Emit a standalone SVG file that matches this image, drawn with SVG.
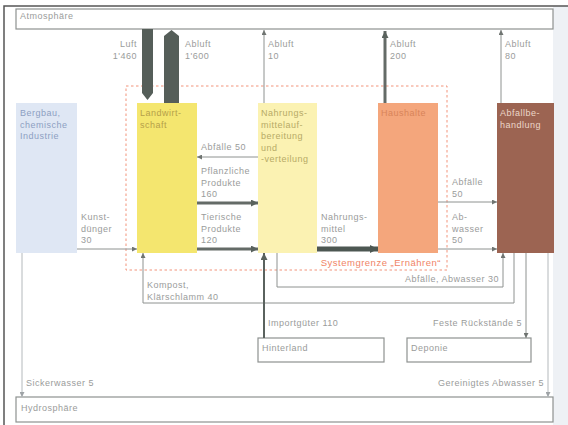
<svg xmlns="http://www.w3.org/2000/svg" width="568" height="425" viewBox="0 0 568 425">
<style>
text{font-family:"Liberation Sans","DejaVu Sans",sans-serif;font-size:9px;letter-spacing:0.5px;fill:#9a9c9b}
.bl{fill:#8d9fc2}
.lw{fill:#b4a04a}
.nm{fill:#b7aa66}
.hh{fill:#d88459}
.ab{fill:#ecd7c9}
.sg{fill:#f08466;font-size:9.5px}
.thin{fill:none;stroke:#8e9290;stroke-width:1}
.light{fill:none;stroke:#b4b9bc;stroke-width:1}
.thick{fill:none;stroke:#646b67;stroke-width:3}
.box{fill:#fff;stroke:#8e9290;stroke-width:1.2}
</style>
<defs>
<marker id="a" viewBox="0 0 8 8" refX="8" refY="4" markerWidth="5" markerHeight="5" markerUnits="userSpaceOnUse" orient="auto"><path d="M0,0L8,4L0,8z" fill="#6f7471"/></marker>
<marker id="aL" viewBox="0 0 8 8" refX="8" refY="4" markerWidth="5" markerHeight="5" markerUnits="userSpaceOnUse" orient="auto"><path d="M0,0L8,4L0,8z" fill="#9ea3a6"/></marker>
<marker id="aT" viewBox="0 0 8 8" refX="8" refY="4" markerWidth="7" markerHeight="7" markerUnits="userSpaceOnUse" orient="auto"><path d="M0,0L8,4L0,8z" fill="#59625d"/></marker>
<marker id="aX" viewBox="0 0 8 8" refX="8" refY="4" markerWidth="8" markerHeight="9" markerUnits="userSpaceOnUse" orient="auto"><path d="M0,0L8,4L0,8z" fill="#4d5752"/></marker>
</defs>
<rect x="0" y="0" width="568" height="425" fill="#fff"/>
<rect x="553" y="6" width="15" height="419" fill="#eef1f5"/>
<path d="M4,425V6H568" fill="none" stroke="#555" stroke-width="1.5"/>

<g id="atmosphaere"><rect class="box" x="16" y="9" width="537" height="20"/><text x="20" y="19">Atmosphäre</text></g>
<g id="hydrosphaere"><rect class="box" x="16" y="397" width="537" height="25"/><text x="21" y="411">Hydrosphäre</text></g>

<g id="systemgrenze"><rect x="126" y="86" width="321" height="184" fill="none" stroke="#f2937a" stroke-width="1" stroke-dasharray="2.5,2.5"/><text class="sg" x="441" y="266" text-anchor="end">Systemgrenze „Ernähren“</text></g>

<g id="bergbau"><rect x="16" y="103" width="61" height="150" fill="#dfe7f4"/><text class="bl" x="20" y="116">Bergbau,</text><text class="bl" x="20" y="127.5">chemische</text><text class="bl" x="20" y="139">Industrie</text></g>
<g id="landwirtschaft"><rect x="137" y="103" width="60" height="150" fill="#f4e66f"/><text class="lw" x="140" y="116">Landwirt-</text><text class="lw" x="140" y="127.5">schaft</text></g>
<g id="nahrungsmittel"><rect x="258" y="103" width="59" height="150" fill="#fbf2b2"/><text class="nm" x="261" y="116">Nahrungs-</text><text class="nm" x="261" y="127.5">mittelauf-</text><text class="nm" x="261" y="139">bereitung</text><text class="nm" x="261" y="150.5">und</text><text class="nm" x="261" y="162">-verteilung</text></g>
<g id="haushalte"><rect x="378" y="103" width="60" height="150" fill="#f4a67c"/><text class="hh" x="381" y="116">Haushalte</text></g>
<g id="abfallbehandlung"><rect x="497" y="103" width="57" height="150" fill="#9c6452"/><text class="ab" x="500" y="116">Abfallbe-</text><text class="ab" x="500" y="127.5">handlung</text></g>
<g id="hinterland"><rect class="box" x="258" y="338" width="126" height="24"/><text x="262" y="351">Hinterland</text></g>
<g id="deponie"><rect class="box" x="407" y="338" width="124" height="24"/><text x="411" y="351">Deponie</text></g>

<g id="connectors">
<polygon points="142,29 153,29 153,93 147.5,100 142,93" fill="#555e59"/>
<polygon points="164,103 179,103 179,36 171.5,30 164,36" fill="#555e59"/>
<path class="thin" d="M264,103V30" marker-end="url(#a)"/>
<path class="thick" d="M385,103V31" marker-end="url(#aT)"/>
<path class="thin" d="M501,103V30" marker-end="url(#a)"/>
<path class="thin" d="M77,249H137" marker-end="url(#a)"/>
<path class="thin" d="M258,157H197" marker-end="url(#a)"/>
<path class="thick" d="M197,203H258" marker-end="url(#aT)"/>
<path class="thick" d="M197,249H258" marker-end="url(#aT)"/>
<path d="M317,249H378" fill="none" stroke="#4d5752" stroke-width="5" marker-end="url(#aX)"/>
<path class="thin" d="M438,202H497" marker-end="url(#a)"/>
<path class="thin" d="M438,249H497" marker-end="url(#a)"/>
<path class="thin" d="M277,253V287H503V253" marker-end="url(#a)"/>
<path class="thin" d="M514,253V303H143V253" marker-end="url(#a)"/>
<path d="M264,338V253" fill="none" stroke="#5a625e" stroke-width="2" marker-end="url(#aT)"/>
<path class="thin" d="M526,253V338" marker-end="url(#a)"/>
<path class="light" d="M548,253V397" marker-end="url(#aL)"/>
<path class="light" d="M22,253V397" marker-end="url(#aL)"/>
</g>

<g id="labels">
<text x="137" y="47" text-anchor="end">Luft</text><text x="137" y="58.5" text-anchor="end">1'460</text>
<text x="185" y="47">Abluft</text><text x="185" y="58.5">1'600</text>
<text x="268" y="47">Abluft</text><text x="268" y="58.5">10</text>
<text x="390" y="47">Abluft</text><text x="390" y="58.5">200</text>
<text x="505" y="47">Abluft</text><text x="505" y="58.5">80</text>
<text x="81" y="220">Kunst-</text><text x="81" y="231.5">dünger</text><text x="81" y="243">30</text>
<text x="201" y="150">Abfälle 50</text>
<text x="201" y="174">Pflanzliche</text><text x="201" y="185.5">Produkte</text><text x="201" y="197">160</text>
<text x="201" y="220">Tierische</text><text x="201" y="231.5">Produkte</text><text x="201" y="243">120</text>
<text x="321" y="220">Nahrungs-</text><text x="321" y="231.5">mittel</text><text x="321" y="243">300</text>
<text x="452" y="185">Abfälle</text><text x="452" y="196.5">50</text>
<text x="452" y="220">Ab-</text><text x="452" y="231.5">wasser</text><text x="452" y="243">50</text>
<text x="499" y="282" text-anchor="end">Abfälle, Abwasser 30</text>
<text x="147" y="288">Kompost,</text><text x="147" y="299.5">Klärschlamm 40</text>
<text x="268" y="326">Importgüter 110</text>
<text x="522" y="326" text-anchor="end">Feste Rückstände 5</text>
<text x="26" y="386">Sickerwasser 5</text>
<text x="544" y="386" text-anchor="end">Gereinigtes Abwasser 5</text>
</g>
</svg>
